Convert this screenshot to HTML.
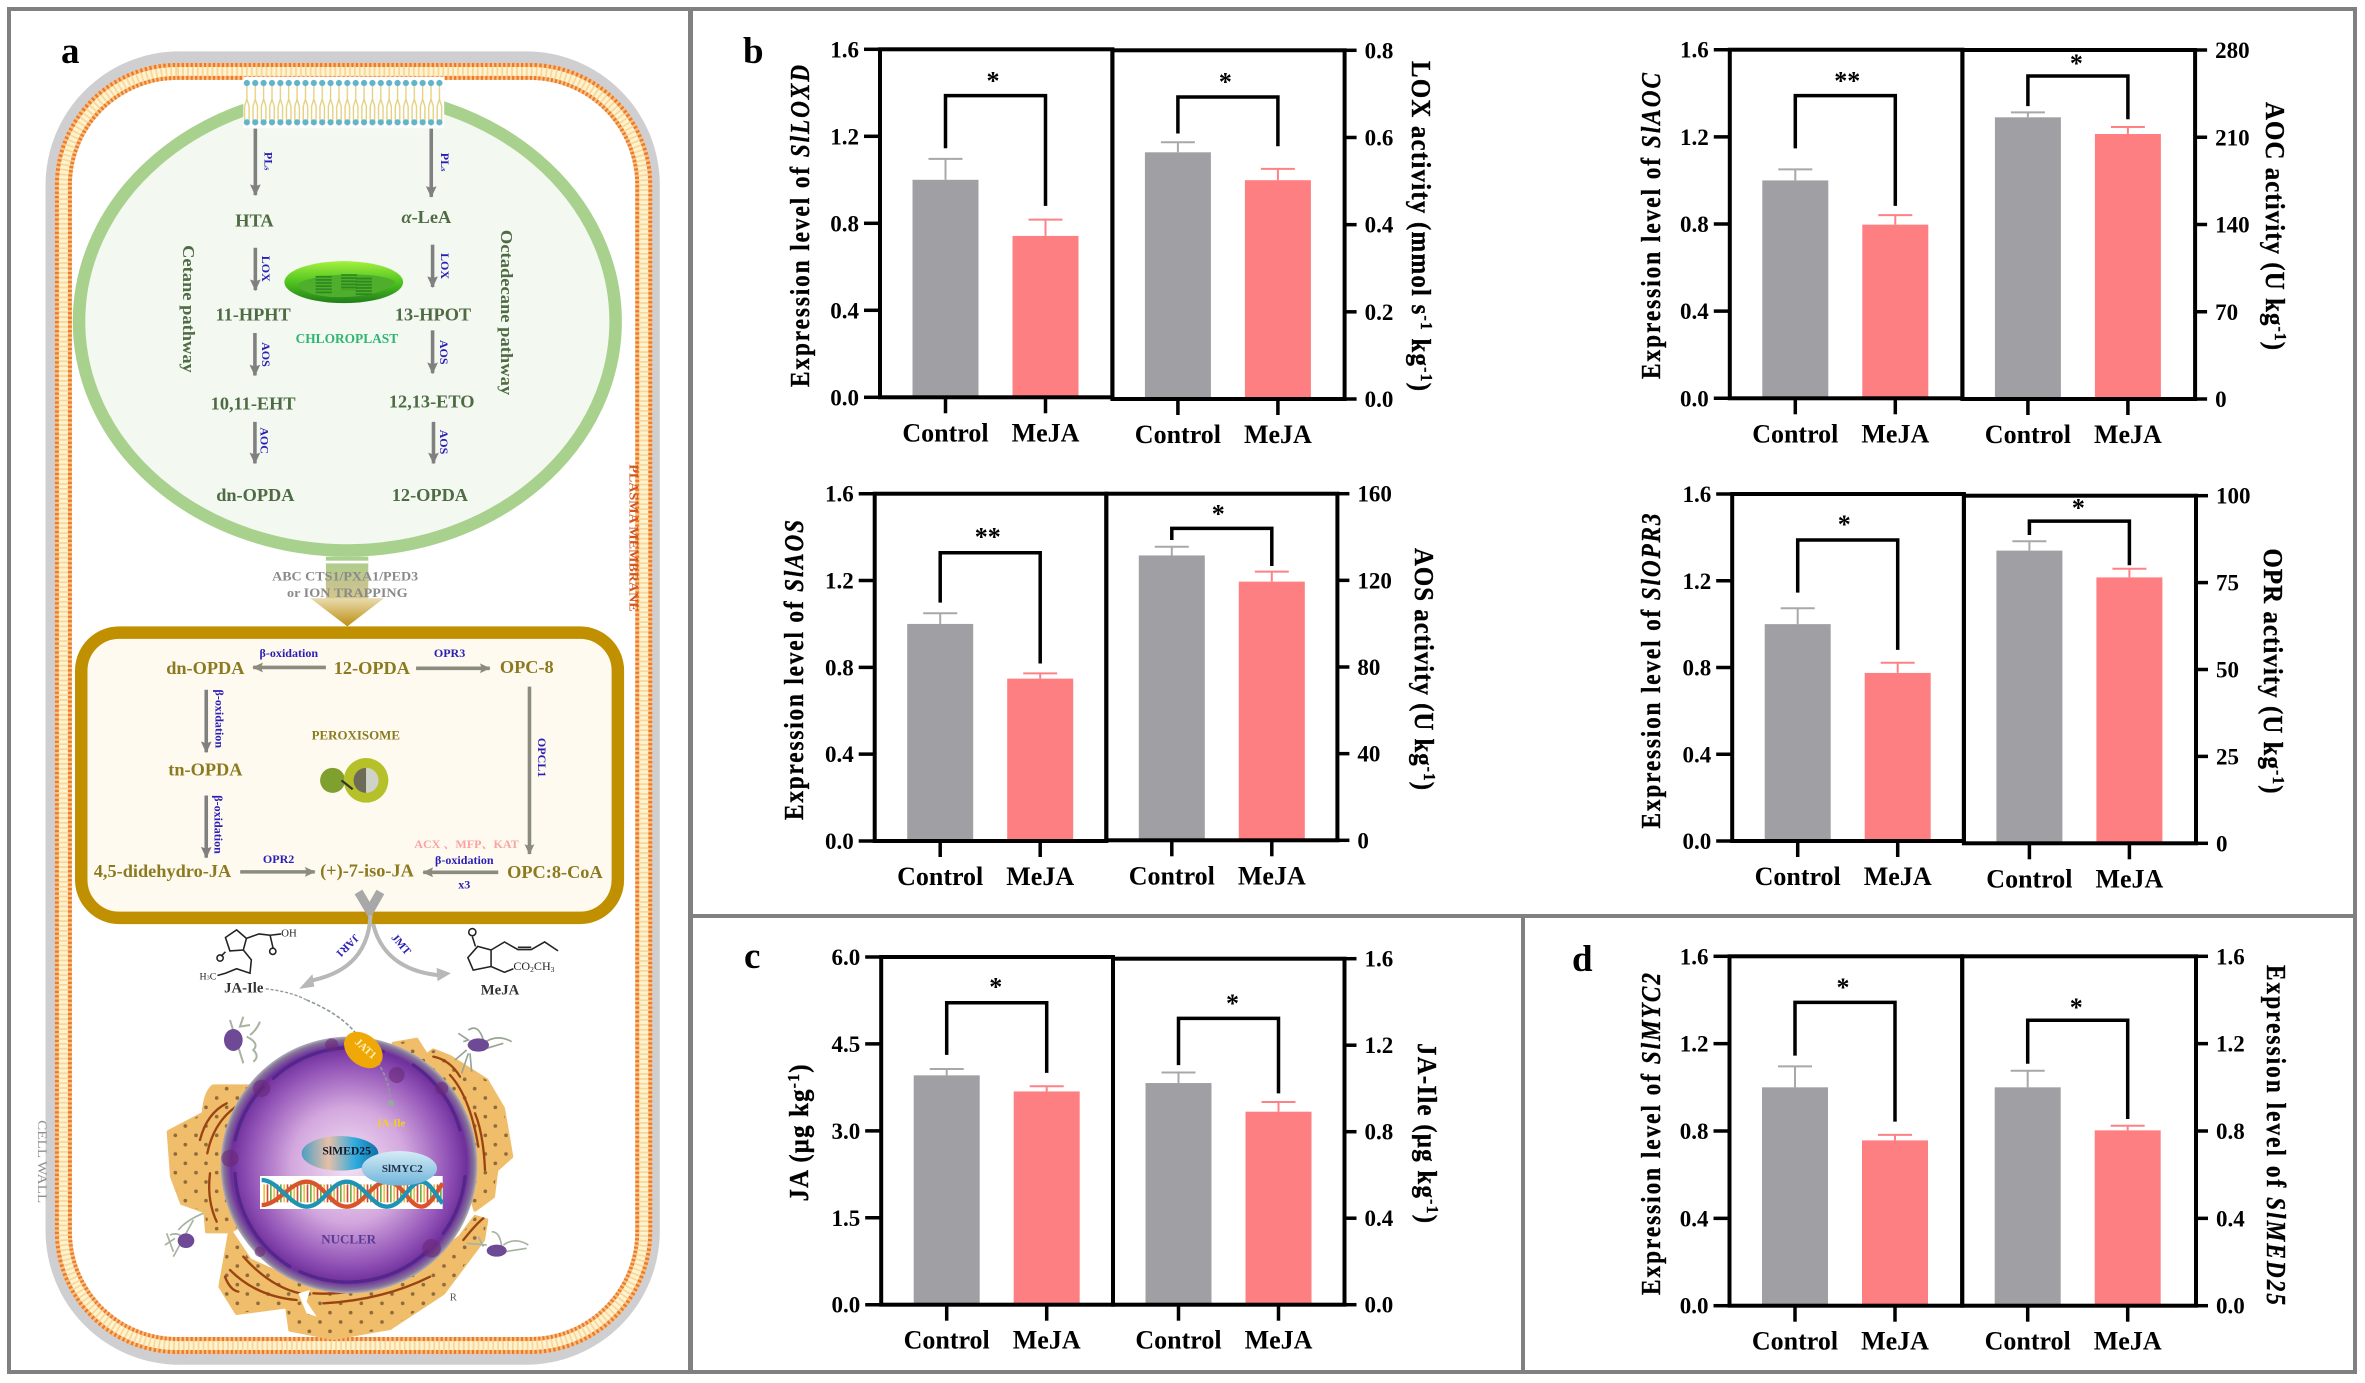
<!DOCTYPE html>
<html lang="en">
<head>
<meta charset="utf-8">
<title>Jasmonate pathway and MeJA response</title>
<style>
html,body{margin:0;padding:0;background:#fff;}
body{width:2365px;height:1383px;overflow:hidden;}
svg{display:block;position:absolute;left:0;top:0;}
text{font-family:"Liberation Serif","Noto Serif CJK SC",serif;font-weight:bold;}
</style>
</head>
<body>
<svg id="figure" xmlns="http://www.w3.org/2000/svg" width="2365" height="1383" viewBox="0 0 2365 1383">
<defs>
<marker id="ah" markerUnits="userSpaceOnUse" markerWidth="30" markerHeight="30" refX="24" refY="12" orient="auto"><path d="M0 0L26 12L0 24L4 12Z" fill="#808080"/></marker>
<marker id="ahL" markerUnits="userSpaceOnUse" markerWidth="30" markerHeight="30" refX="22" refY="11" orient="auto"><path d="M0 0L24 11L0 22L4 11Z" fill="#8b8b80"/></marker>
<pattern id="dots" x="544" y="0" width="18.75" height="2000" patternUnits="userSpaceOnUse"><circle cx="9" cy="186" r="7" fill="#63b4c9"/><circle cx="9" cy="274" r="7" fill="#63b4c9"/></pattern>
<pattern id="tails" x="544" y="190" width="18.75" height="80" patternUnits="userSpaceOnUse"><path d="M9 0V32L4 48V80M9 0V32L14 48V80" stroke="#e3cf7c" stroke-width="3" fill="none"/></pattern>
<pattern id="erDots" width="62" height="56" patternUnits="userSpaceOnUse"><circle cx="14" cy="14" r="5.5" fill="#8d6a3c"/><circle cx="44" cy="42" r="5.5" fill="#8d6a3c"/></pattern>
<linearGradient id="stemGrad" x1="0" y1="0" x2="0" y2="1"><stop offset="0" stop-color="#a8d18d"/><stop offset=".6" stop-color="#c4c48f"/><stop offset="1" stop-color="#d8c88a"/></linearGradient>
<linearGradient id="headGrad" x1="0" y1="0" x2="0" y2="1"><stop offset="0" stop-color="#e8dcb0"/><stop offset="1" stop-color="#bd8e12"/></linearGradient>
<linearGradient id="chloro" x1="0" y1="0" x2="0" y2="1"><stop offset="0" stop-color="#a4f040"/><stop offset=".5" stop-color="#4fc41f"/><stop offset="1" stop-color="#1f7d1a"/></linearGradient>
<radialGradient id="nuc" cx=".5" cy=".5" r=".5"><stop offset="0" stop-color="#f3e2f4"/><stop offset=".45" stop-color="#d3a7de"/><stop offset=".78" stop-color="#9152b6"/><stop offset=".92" stop-color="#6f2f9c"/><stop offset=".975" stop-color="#85769a"/><stop offset="1" stop-color="#b4aeb8"/></radialGradient>
<linearGradient id="med" x1="0" y1="0" x2="1" y2="0"><stop offset="0" stop-color="#4b9fc4"/><stop offset=".35" stop-color="#e8bfa8"/><stop offset=".7" stop-color="#2eaadf"/><stop offset="1" stop-color="#0f6fa5"/></linearGradient>
<linearGradient id="myc" x1="0" y1="0" x2="0" y2="1"><stop offset="0" stop-color="#d5ecf6"/><stop offset="1" stop-color="#6fb4da"/></linearGradient>
</defs>

<g fill="none" stroke="#808080" stroke-width="4">
  <rect x="9" y="9" width="681" height="1363"/>
  <rect x="691" y="9" width="1664" height="907"/>
  <rect x="691" y="916" width="832" height="456"/>
  <rect x="1523" y="916" width="832" height="456"/>
</g>

<g transform="scale(0.44643)">
  <rect x="102" y="115" width="1376" height="2942" rx="300" fill="#cfcfd1"/>
  <g fill="none">
    <rect x="142" y="160" width="1300" height="2854" rx="255" fill="#fff" stroke="#f8c084" stroke-width="38"/>
    <rect x="142" y="160" width="1300" height="2854" rx="255" stroke="#ec7a28" stroke-width="38" stroke-dasharray="5 5"/>
    <rect x="142" y="160" width="1300" height="2854" rx="255" stroke="#fff3cf" stroke-width="20"/>
    <rect x="142" y="160" width="1300" height="2854" rx="255" stroke="#f7d89b" stroke-width="20" stroke-dasharray="4 7"/>
  </g>

  <ellipse cx="778" cy="720" rx="601" ry="513" fill="#f3f8f1" stroke="#a8d18d" stroke-width="28"/>
  <g>
    <rect x="545" y="172" width="450" height="115" fill="#fff"/>
    <rect x="545" y="190" width="450" height="80" fill="url(#tails)"/>
    <rect x="545" y="176" width="450" height="108" fill="url(#dots)"/>
  </g>

  <g stroke="#808080" stroke-width="8" fill="none">
    <line x1="572" y1="288" x2="572" y2="437" marker-end="url(#ah)"/>
    <line x1="966" y1="288" x2="966" y2="441" marker-end="url(#ah)"/>
    <line x1="572" y1="555" x2="572" y2="650" marker-end="url(#ah)"/>
    <line x1="969" y1="548" x2="969" y2="643" marker-end="url(#ah)"/>
    <line x1="571" y1="746" x2="571" y2="841" marker-end="url(#ah)"/>
    <line x1="969" y1="740" x2="969" y2="836" marker-end="url(#ah)"/>
    <line x1="571" y1="945" x2="571" y2="1038" marker-end="url(#ah)"/>
    <line x1="971" y1="945" x2="971" y2="1038" marker-end="url(#ah)"/>
  </g>

  <g fill="#4f6b44" font-size="41" text-anchor="middle">
    <text x="570" y="507">HTA</text>
    <text x="955" y="499"><tspan font-style="italic">α</tspan>-LeA</text>
    <text x="567" y="718">11-HPHT</text>
    <text x="970" y="718">13-HPOT</text>
    <text x="567" y="917">10,11-EHT</text>
    <text x="967" y="913">12,13-ETO</text>
    <text x="572" y="1122">dn-OPDA</text>
    <text x="963" y="1122">12-OPDA</text>
    <text transform="translate(410,692) rotate(90)" font-size="38" textLength="286" lengthAdjust="spacingAndGlyphs" x="0" y="0">Cetane pathway</text>
    <text transform="translate(1122,700) rotate(90)" font-size="38" textLength="370" lengthAdjust="spacingAndGlyphs" x="0" y="0">Octadecane pathway</text>
  </g>

  <g fill="#2a1fb5" font-size="27" text-anchor="middle">
    <text transform="translate(592,361) rotate(90)">PL<tspan font-size="18">s</tspan></text>
    <text transform="translate(988,363) rotate(90)">PL<tspan font-size="18">s</tspan></text>
    <text transform="translate(587,602) rotate(90)">LOX</text>
    <text transform="translate(988,596) rotate(90)">LOX</text>
    <text transform="translate(587,794) rotate(90)">AOS</text>
    <text transform="translate(986,789) rotate(90)">AOS</text>
    <text transform="translate(584,987) rotate(90)">AOC</text>
    <text transform="translate(986,990) rotate(90)">AOS</text>
  </g>

  <g>
    <ellipse cx="770" cy="632" rx="133" ry="47" fill="url(#chloro)"/>
    <path d="M665 640C680 612 860 605 885 632C860 670 700 680 665 640Z" fill="#4fae2c"/>
    <g fill="none" stroke="#2f8a1e" stroke-width="36" stroke-dasharray="4 3">
      <line x1="725" y1="618" x2="725" y2="660"/>
      <line x1="782" y1="614" x2="782" y2="650"/>
      <line x1="815" y1="622" x2="815" y2="662"/>
    </g>
    <text x="777" y="768" font-size="30" fill="#2fb573" text-anchor="middle">CHLOROPLAST</text>
  </g>

  <g>
    <rect x="730" y="1247" width="95" height="100" fill="url(#stemGrad)"/>
    <rect x="730" y="1256" width="95" height="6" fill="#fff"/>
    <polygon points="695,1340 860,1340 778,1403" fill="url(#headGrad)"/>
    <text x="773" y="1300" font-size="29" fill="#8a8a8a" text-anchor="middle" textLength="327" lengthAdjust="spacingAndGlyphs">ABC CTS1/PXA1/PED3</text>
    <text x="778" y="1337" font-size="29" fill="#8a8a8a" text-anchor="middle" textLength="270" lengthAdjust="spacingAndGlyphs">or ION TRAPPING</text>
  </g>

  <text transform="translate(1410,1205) rotate(90)" font-size="29" fill="#d1561f" text-anchor="middle" textLength="330" lengthAdjust="spacingAndGlyphs">PLASMA MEMBRANE</text>

  <rect x="182" y="1417" width="1202" height="639" rx="85" fill="#fefaf0" stroke="#c09000" stroke-width="28"/>

  <g>
    <g fill="#8c7a20" font-size="41" text-anchor="middle">
      <text x="460" y="1510">dn-OPDA</text>
      <text x="833" y="1510">12-OPDA</text>
      <text x="1180" y="1507">OPC-8</text>
    </g>
    <g fill="#2a1fb5" font-size="27" text-anchor="middle">
      <text x="647" y="1472">β-oxidation</text>
      <text x="1007" y="1472">OPR3</text>
    </g>
    <g stroke="#8b8b80" stroke-width="8" fill="none">
      <line x1="730" y1="1495" x2="567" y2="1495" marker-end="url(#ahL)"/>
      <line x1="932" y1="1497" x2="1097" y2="1497" marker-end="url(#ahL)"/>
      <line x1="462" y1="1545" x2="462" y2="1685" marker-end="url(#ah)" stroke="#808080"/>
      <line x1="1186" y1="1538" x2="1186" y2="1913" marker-end="url(#ahL)"/>
    </g>
  </g>

  <g transform="translate(0,1530)">
    <g stroke="#8b8b80" stroke-width="8" fill="none">
      <line x1="462" y1="252" x2="462" y2="391" marker-end="url(#ah)" stroke="#808080"/>
      <line x1="538" y1="423" x2="705" y2="423" marker-end="url(#ahL)"/>
      <line x1="1116" y1="424" x2="948" y2="424" marker-end="url(#ahL)"/>
    </g>
    <g fill="#8c7a20" font-size="41" text-anchor="middle">
      <text x="460" y="207">tn-OPDA</text>
      <text x="364" y="435">4,5-didehydro-JA</text>
      <text x="822" y="433">(+)-7-iso-JA</text>
      <text x="1243" y="437">OPC:8-CoA</text>
      <text x="797" y="127" font-size="29">PEROXISOME</text>
    </g>
    <g fill="#2a1fb5" font-size="27" text-anchor="middle">
      <text transform="translate(483,80) rotate(90)">β-oxidation</text>
      <text transform="translate(480,317) rotate(90)">β-oxidation</text>
      <text x="624" y="403">OPR2</text>
      <text x="1040" y="405">β-oxidation</text>
      <text x="1040" y="460">x3</text>
      <text transform="translate(1205,167) rotate(90)">OPCL1</text>
    </g>
    <text x="1045" y="370" font-size="27" fill="#f9a3a3" text-anchor="middle">ACX 、MFP、KAT</text>
    <g>
      <circle cx="745" cy="218" r="28" fill="#7fa02e"/>
      <circle cx="820" cy="218" r="50" fill="#b6c12a"/>
      <path d="M820 190A28 28 0 0 0 820 246Z" fill="#6e6a58"/>
      <path d="M820 190A28 28 0 0 1 820 246Z" fill="#cfd2c8"/>
      <line x1="765" y1="218" x2="790" y2="238" stroke="#333" stroke-width="5"/>
    </g>

    <g fill="none" stroke="#b8b8b8">
      <path d="M803 468L828 510L852 468" stroke-width="20" stroke="#a8a8a8"/>
      <path d="M830 520C825 620 760 655 690 668" stroke-width="9"/>
      <path d="M836 540C855 620 920 650 990 655" stroke-width="9"/>
      <polygon points="670,685 700,652 704,680" fill="#b8b8b8" stroke="none"/>
      <polygon points="1010,650 978,638 980,668" fill="#b8b8b8" stroke="none"/>
    </g>
    <text transform="translate(777,587) rotate(135)" font-size="25" fill="#2a1fb5" text-anchor="middle" dominant-baseline="middle">JAR1</text>
    <text transform="translate(897,587) rotate(50)" font-size="25" fill="#2a1fb5" text-anchor="middle" dominant-baseline="middle">JMT</text>

    <g fill="none" stroke="#222" stroke-width="3.5">
      <path d="M505 570L530 553L552 572L545 598L515 600ZM505 602L495 612M552 572L580 562L605 565L612 595M605 565L630 562M545 598L563 620L560 650L530 640L505 650L487 655"/>
      <text x="630" y="568" font-size="24" fill="#222" stroke="none" style="font-weight:normal">OH</text>
      <text x="447" y="664" font-size="22" fill="#222" stroke="none" style="font-weight:normal">H<tspan font-size="14">3</tspan>C</text>
      <circle cx="493" cy="616" r="7"/>
      <circle cx="611" cy="601" r="7"/>
    </g>
    <text x="546" y="693" font-size="33" fill="#333" text-anchor="middle">JA-Ile</text>
    <g fill="none" stroke="#222" stroke-width="3.5">
      <path d="M1048 615L1070 590L1100 598L1100 635L1060 643ZM1065 590L1058 568M1100 598L1130 580L1160 597L1190 597L1220 580L1250 600M1160 592L1190 592M1100 635L1130 648L1150 640"/>
      <circle cx="1058" cy="558" r="8"/>
      <text x="1150" y="643" font-size="27" fill="#222" stroke="none" style="font-weight:normal">CO<tspan font-size="17" dy="4">2</tspan><tspan dy="-4">CH</tspan><tspan font-size="17" dy="4">3</tspan></text>
    </g>
    <text x="1120" y="698" font-size="33" fill="#333" text-anchor="middle">MeJA</text>
    <path d="M595 685C640 690 668 700 687 710" fill="none" stroke="#8f9a9a" stroke-width="3" stroke-dasharray="7 4"/>
    <text transform="translate(85,1072) rotate(90)" font-size="28" fill="#8f8f8f" text-anchor="middle" textLength="186" lengthAdjust="spacingAndGlyphs" style="font-weight:normal">CELL WALL</text>
  </g>
</g>

<g transform="translate(150,1000) scale(0.33333)">
  <g stroke-linejoin="round">
    <path d="M55 395L160 340Q165 275 190 258L300 258L320 650L240 695L170 695L165 635L95 610L65 530Z" fill="#f0bd6a" stroke="#f0bd6a" stroke-width="10"/>
    <path d="M730 130L800 118L830 165L850 150L900 170L1010 240L1060 325L1085 470L1040 510L1030 590L975 630L880 300Z" fill="#f0bd6a" stroke="#f0bd6a" stroke-width="10"/>
    <path d="M210 860L240 690L300 780L500 870L750 840L930 710L975 650L1010 660L1000 720L940 800L880 880L720 985L550 1015L420 990L410 920L260 940Z" fill="#f0bd6a" stroke="#f0bd6a" stroke-width="10"/>
    <path d="M55 395L160 340Q165 275 190 258L300 258L320 650L240 695L170 695L165 635L95 610L65 530Z" fill="url(#erDots)"/>
    <path d="M730 130L800 118L830 165L850 150L900 170L1010 240L1060 325L1085 470L1040 510L1030 590L975 630L880 300Z" fill="url(#erDots)"/>
    <path d="M210 860L240 690L300 780L500 870L750 840L930 710L975 650L1010 660L1000 720L940 800L880 880L720 985L550 1015L420 990L410 920L260 940Z" fill="url(#erDots)"/>
    <path d="M172 460Q190 370 255 322M150 420Q170 340 230 310M180 520Q170 600 200 665M240 810Q320 890 440 900M280 770Q360 860 450 880M225 830Q240 870 265 875M490 880Q640 890 820 800M520 910Q700 900 840 830M940 720Q980 670 1000 655M900 225Q960 290 985 440M850 170Q900 180 930 230M975 340Q1000 400 1005 510" fill="none" stroke="#9a4412" stroke-width="7" stroke-linecap="round"/>
    <path d="M445 880L480 870L470 905L500 950L470 940Z" fill="#fff"/>
  </g>

  <g>
    <path d="M240 60L280 190M280 50L270 80L300 75M290 110Q330 130 310 150Q330 170 310 185M300 105Q320 90 330 65" fill="none" stroke="#a7b3a0" stroke-width="6"/>
    <ellipse cx="250" cy="120" rx="28" ry="33" fill="#6e4a96"/>
    <path d="M925 100L955 120L940 125M1000 130Q1040 100 1085 125M1010 145L1060 130M955 90Q985 70 1000 120M915 180L950 150M935 220L955 160M965 215L960 160" fill="none" stroke="#98a595" stroke-width="5"/>
    <ellipse cx="985" cy="135" rx="32" ry="20" fill="#6e4a96"/>
    <path d="M45 735L75 715M50 700L70 755M85 690Q110 660 160 640M70 770L130 660M60 705Q85 695 100 715" fill="none" stroke="#a7b3a0" stroke-width="5"/>
    <ellipse cx="108" cy="722" rx="25" ry="22" fill="#6e4a96"/>
    <path d="M950 730L1010 735M985 710L1000 740M1060 735Q1095 710 1135 735M1065 755L1130 745M1025 695Q1050 695 1055 740" fill="none" stroke="#a7b3a0" stroke-width="5"/>
    <ellipse cx="1040" cy="752" rx="30" ry="18" fill="#6e4a96"/>
  </g>

  <circle cx="597" cy="495" r="385" fill="url(#nuc)"/>
  <path d="M255 420A350 350 0 0 1 340 260M370 235A350 350 0 0 1 700 155M790 195A350 350 0 0 1 930 390" fill="none" stroke="#53288a" stroke-width="10" stroke-linecap="round"/>
  <path d="M255 520A350 350 0 0 0 420 800M450 815A350 350 0 0 0 830 755M880 700A350 350 0 0 0 945 530" fill="none" stroke="#53288a" stroke-width="10" stroke-linecap="round"/>
  <g fill="#6a2a78" opacity=".6">
    <circle cx="335" cy="265" r="26"/>
    <circle cx="240" cy="475" r="26"/>
    <circle cx="545" cy="135" r="20"/>
    <circle cx="740" cy="225" r="24"/>
    <circle cx="875" cy="265" r="20"/>
    <circle cx="845" cy="745" r="28"/>
    <circle cx="330" cy="755" r="16"/>
  </g>

  <path d="M470 0C530 25 590 60 625 110C680 170 715 230 722 295" fill="none" stroke="#8f9a9a" stroke-width="5" stroke-dasharray="11 6"/>
  <ellipse cx="640" cy="150" rx="65" ry="46" transform="rotate(40 640 150)" fill="#f0a806"/>
  <text transform="translate(645,148) rotate(42)" font-size="32" fill="#fff3c0" text-anchor="middle" dominant-baseline="middle">JAT1</text>
  <circle cx="722" cy="310" r="10" fill="#9aa7a5"/>
  <text x="722" y="380" font-size="33" fill="#f4cf1e" text-anchor="middle">JA-Ile</text>

  <rect x="330" y="528" width="548" height="99" fill="#fff"/>
  <g fill="none">
    <line x1="340" y1="580" x2="875" y2="580" stroke="#eec33c" stroke-width="54" stroke-dasharray="5 25"/>
    <line x1="350" y1="580" x2="875" y2="580" stroke="#d64a3a" stroke-width="54" stroke-dasharray="5 25"/>
    <line x1="360" y1="580" x2="875" y2="580" stroke="#6bb04a" stroke-width="54" stroke-dasharray="5 25"/>
    <path d="M335 615C385 615 420 545 470 545C520 545 540 620 590 620C640 620 665 545 710 545C760 545 775 620 815 620C840 620 860 575 878 550" stroke="#d9542a" stroke-width="13"/>
    <path d="M335 540C385 540 420 620 470 620C520 620 540 545 590 545C640 545 665 620 710 620C760 620 775 545 815 545C840 545 860 590 878 610" stroke="#1e93b4" stroke-width="13"/>
  </g>
  <ellipse cx="570" cy="460" rx="115" ry="52" fill="url(#med)"/>
  <ellipse cx="748" cy="505" rx="113" ry="52" fill="url(#myc)"/>
  <text x="590" y="463" font-size="35" fill="#10182a" text-anchor="middle">SlMED25</text>
  <text x="757" y="516" font-size="33" fill="#1f3048" text-anchor="middle">SlMYC2</text>
  <text x="596" y="730" font-size="39" fill="#5b3a96" text-anchor="middle">NUCLER</text>
  <text x="910" y="902" font-size="32" fill="#555" text-anchor="middle" style="font-weight:normal">R</text>
</g>

<text x="61" y="63" font-size="37">a</text>
<text x="743" y="63" font-size="37">b</text>
<text x="744" y="968" font-size="37">c</text>
<text x="1572" y="971" font-size="37">d</text>

<g id="charts"></g>
</svg>

<script>
// ---- shared categories ----
const groups = ['Control', 'MeJA'];

// ---- tick labels ----
const ticksExpression = ['0.0', '0.4', '0.8', '1.2', '1.6'];
const ticksLox = ['0.0', '0.2', '0.4', '0.6', '0.8'];
const ticksAoc = ['0', '70', '140', '210', '280'];
const ticksAos = ['0', '40', '80', '120', '160'];
const ticksOpr = ['0', '25', '50', '75', '100'];
const ticksJa = ['0.0', '1.5', '3.0', '4.5', '6.0'];

// ---- series values: [Control, MeJA] ----
const loxdValues = [1.0, 0.742];
const loxdErrors = [0.096, 0.075];
const loxActivityValues = [0.566, 0.502];
const loxActivityErrors = [0.023, 0.026];
const aocGeneValues = [1.0, 0.797];
const aocGeneErrors = [0.051, 0.044];
const aocActivityValues = [226, 212.6];
const aocActivityErrors = [4, 5.6];
const aosGeneValues = [1.0, 0.748];
const aosGeneErrors = [0.049, 0.024];
const aosActivityValues = [131.5, 119.4];
const aosActivityErrors = [4, 4.6];
const opr3GeneValues = [1.0, 0.775];
const opr3GeneErrors = [0.073, 0.047];
const oprActivityValues = [84.2, 76.5];
const oprActivityErrors = [2.7, 2.5];
const jaValues = [3.958, 3.68];
const jaErrors = [0.109, 0.09];
const jaIleValues = [1.025, 0.8925];
const jaIleErrors = [0.049, 0.045];
const myc2Values = [1.0, 0.757];
const myc2Errors = [0.096, 0.025];
const med25Values = [1.0, 0.803];
const med25Errors = [0.076, 0.021];

// ---- significance brackets: [top, control leg end, MeJA leg end] in axis units ----
const loxdBracket = [1.387, 1.145, 0.88];
const loxActivityBracket = [0.693, 0.609, 0.58];
const aocGeneBracket = [1.389, 1.147, 0.883];
const aocActivityBracket = [259.1, 235, 224.4];
const aosGeneBracket = [1.328, 1.098, 0.818];
const aosActivityBracket = [144, 138.6, 126.6];
const opr3GeneBracket = [1.388, 1.145, 0.881];
const oprActivityBracket = [92.7, 88.7, 80];
const jaBracket = [5.21, 4.31, 4.0];
const jaIleBracket = [1.324, 1.108, 0.977];
const myc2Bracket = [1.389, 1.145, 0.843];
const med25Bracket = [1.307, 1.108, 0.855];

const NS = 'http://www.w3.org/2000/svg';
const root = document.getElementById('charts');

function make(parent, tag, attrs, text) {
  const el = document.createElementNS(NS, tag);
  for (const k in attrs) el.setAttribute(k, attrs[k]);
  if (text !== undefined) el.innerHTML = text;
  parent.appendChild(el);
  return el;
}
function yScale(f, ticks, v) {
  const max = parseFloat(ticks[ticks.length - 1]);
  return f.yB - (v / max) * (f.yB - f.yT);
}
function xScale(f, i) {
  return f.x0 + 65.5 + 100 * i;
}
const barColors = ['#a09fa4', '#fe7f82'];

function drawChart(c) {
  const f = c.frame;
  const g = make(root, 'g', {});
  
  

  groups.forEach(function (name, i) {
    const cx = xScale(f, i);
    const top = yScale(f, c.ticks, c.values[i]);
    const errTop = yScale(f, c.ticks, c.values[i] + c.errors[i]);
    const bar = make(g, 'rect', { x: cx - 33, y: top, width: 66, height: f.yB - top, fill: barColors[i] });
    
    
    const err = make(g, 'path', { d: 'M' + cx + ' ' + top + 'V' + errTop + 'M' + (cx - 17) + ' ' + errTop + 'H' + (cx + 17), stroke: i ? '#fd8286' : '#a8a8aa', 'stroke-width': 2, fill: 'none' });
    
    
    const tick = make(g, 'line', { x1: cx, x2: cx, y1: f.yB, y2: f.yB + 16, stroke: '#000', 'stroke-width': 3.5 });
    
    
    const label = make(g, 'text', { x: cx, y: f.yB + 44, 'font-size': 26, 'text-anchor': 'middle' }, name);
    
    
  });

  const box = make(g, 'rect', { x: f.x0, y: f.yT, width: f.x1 - f.x0, height: f.yB - f.yT, fill: 'none', stroke: '#000', 'stroke-width': 4 });
  
  

  c.ticks.forEach(function (t) {
    const y = yScale(f, c.ticks, parseFloat(t));
    const left = c.side === 'left';
    const axisX = left ? f.x0 : f.x1;
    const tick = make(g, 'line', { x1: axisX, x2: left ? axisX - 16 : axisX + 12, y1: y, y2: y, stroke: '#000', 'stroke-width': 3.5 });
    
    
    const label = make(g, 'text', { x: left ? axisX - 21 : axisX + 20, y: y + 8, 'font-size': 23, 'text-anchor': left ? 'end' : 'start' }, t);
    
    
  });

  const bTop = yScale(f, c.ticks, c.bracket[0]);
  const legA = yScale(f, c.ticks, c.bracket[1]);
  const legB = yScale(f, c.ticks, c.bracket[2]);
  const xa = xScale(f, 0), xb = xScale(f, 1);
  const bracket = make(g, 'path', { d: 'M' + xa + ' ' + legA + 'V' + bTop + 'H' + xb + 'V' + legB, fill: 'none', stroke: '#000', 'stroke-width': 3.5 });
  
  
  const star = make(g, 'text', { x: (xa + xb) / 2 + c.starDx, y: bTop - c.starGap + 12, 'font-size': 26, 'text-anchor': 'middle' }, c.stars);
  
  

  // Glyphs are slightly narrowed along the baseline, thickened, and spaced out to the measured title length.
  const rot = c.side === 'left' ? -90 : 90;
  const squeeze = c.squeeze || 0.92;
  const title = make(g, 'text', { transform: 'translate(' + c.titleX + ',' + c.titleY + ') rotate(' + rot + ') scale(' + squeeze + ',1)', 'font-size': 27, 'text-anchor': 'middle', textLength: c.titleLen / squeeze, lengthAdjust: 'spacing', stroke: '#000', 'stroke-width': 0.35 }, c.title);
  
  
}

const sup = '<tspan font-size="17" dy="-9">-1</tspan><tspan dy="9">)</tspan>';
const ital = function (s) { return '<tspan font-style="italic">' + s + '</tspan>'; };

drawChart({ side: 'left', frame: { x0: 880, x1: 1112.4, yT: 49.3, yB: 397.3 }, ticks: ticksExpression, values: loxdValues, errors: loxdErrors, bracket: loxdBracket, stars: '*', starDx: -2.5, starGap: 18.3, squeeze: 0.86, title: 'Expression level of ' + ital('SlLOXD'), titleX: 809, titleY: 226, titleLen: 322 });
drawChart({ side: 'right', frame: { x0: 1112.4, x1: 1344.6, yT: 50.3, yB: 399 }, ticks: ticksLox, values: loxActivityValues, errors: loxActivityErrors, bracket: loxActivityBracket, stars: '*', starDx: -2.5, starGap: 18.6, title: 'LOX activity (mmol s<tspan font-size="17" dy="-9">-1</tspan><tspan dy="9"> kg</tspan>' + sup, titleX: 1412, titleY: 226, titleLen: 330 });

drawChart({ side: 'left', frame: { x0: 1729.8, x1: 1962.4, yT: 49.7, yB: 398.3 }, ticks: ticksExpression, values: aocGeneValues, errors: aocGeneErrors, bracket: aocGeneBracket, stars: '**', starDx: 2, starGap: 18.3, squeeze: 0.86, title: 'Expression level of ' + ital('SlAOC'), titleX: 1660, titleY: 226, titleLen: 306 });
drawChart({ side: 'right', frame: { x0: 1962.4, x1: 2195.1, yT: 50, yB: 399 }, ticks: ticksAoc, values: aocActivityValues, errors: aocActivityErrors, bracket: aocActivityBracket, stars: '*', starDx: -1.5, starGap: 16, title: 'AOC activity (U kg' + sup, titleX: 2266, titleY: 226, titleLen: 248 });

drawChart({ side: 'left', frame: { x0: 874.7, x1: 1106.3, yT: 493.7, yB: 841 }, ticks: ticksExpression, values: aosGeneValues, errors: aosGeneErrors, bracket: aosGeneBracket, stars: '**', starDx: -2.5, starGap: 19.3, squeeze: 0.86, title: 'Expression level of ' + ital('SlAOS'), titleX: 803, titleY: 670, titleLen: 300 });
drawChart({ side: 'right', frame: { x0: 1106.3, x1: 1337.4, yT: 493.7, yB: 840.3 }, ticks: ticksAos, values: aosActivityValues, errors: aosActivityErrors, bracket: aosActivityBracket, stars: '*', starDx: -3.5, starGap: 17.7, title: 'AOS activity (U kg' + sup, titleX: 1415, titleY: 669, titleLen: 242 });

drawChart({ side: 'left', frame: { x0: 1732.2, x1: 1963.9, yT: 494, yB: 841 }, ticks: ticksExpression, values: opr3GeneValues, errors: opr3GeneErrors, bracket: opr3GeneBracket, stars: '*', starDx: -3.5, starGap: 19, squeeze: 0.86, title: 'Expression level of ' + ital('SlOPR3'), titleX: 1660, titleY: 671, titleLen: 315 });
drawChart({ side: 'right', frame: { x0: 1963.9, x1: 2196, yT: 495.7, yB: 843.3 }, ticks: ticksOpr, values: oprActivityValues, errors: oprActivityErrors, bracket: oprActivityBracket, stars: '*', starDx: -1, starGap: 16.7, title: 'OPR activity (U kg' + sup, titleX: 2264, titleY: 671, titleLen: 245 });

drawChart({ side: 'left', frame: { x0: 881.2, x1: 1113, yT: 957, yB: 1304.7 }, ticks: ticksJa, values: jaValues, errors: jaErrors, bracket: jaBracket, stars: '*', starDx: -1, starGap: 19.3, title: 'JA (μg kg' + sup, titleX: 808, titleY: 1133, titleLen: 137 });
drawChart({ side: 'right', frame: { x0: 1113, x1: 1344.5, yT: 958.7, yB: 1304.7 }, ticks: ticksExpression, values: jaIleValues, errors: jaIleErrors, bracket: jaIleBracket, stars: '*', starDx: 4, starGap: 18.3, title: 'JA-Ile (μg kg' + sup, titleX: 1418, titleY: 1133, titleLen: 180 });

drawChart({ side: 'left', frame: { x0: 1729.5, x1: 1962.2, yT: 956.3, yB: 1305.7 }, ticks: ticksExpression, values: myc2Values, errors: myc2Errors, bracket: myc2Bracket, stars: '*', starDx: -2, starGap: 18.3, squeeze: 0.86, title: 'Expression level of ' + ital('SlMYC2'), titleX: 1660, titleY: 1134, titleLen: 322 });
drawChart({ side: 'right', frame: { x0: 1962.2, x1: 2196, yT: 956.3, yB: 1305.7 }, ticks: ticksExpression, values: med25Values, errors: med25Errors, bracket: med25Bracket, stars: '*', starDx: -1.5, starGap: 16.3, squeeze: 0.86, title: 'Expression level of ' + ital('SlMED25'), titleX: 2267, titleY: 1135, titleLen: 340 });
</script>
</body>
</html>
